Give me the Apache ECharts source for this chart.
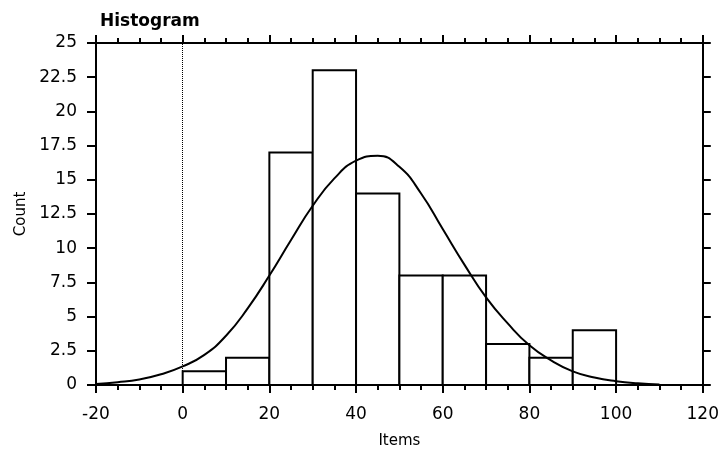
<!DOCTYPE html>
<html>
<head>
<meta charset="utf-8">
<script src="https://cdn.jsdelivr.net/npm/echarts@6/dist/echarts.min.js"></script>
<style>
  html, body { margin: 0; padding: 0; background: #fff; }
  #chart { width: 722px; height: 454px; }
</style>
</head>
<body>
<div id="chart"></div>
<script>
// histogram bins (left edge) and counts
const binStarts = [0, 10, 20, 30, 40, 50, 60, 70, 80, 90]
const binCounts = [1, 2, 17, 23, 14, 8, 8, 3, 2, 4]
const binWidth = 10

// fitted curve
const curveX = [-20, -15, -10, -5, 0, 5, 10, 15, 20, 25, 30, 35, 40, 45, 50, 55, 60, 65, 70, 75, 80, 85, 90, 95, 100, 105, 110]
const curveY = [0.07, 0.2, 0.4, 0.78, 1.36, 2.2, 3.6, 5.6, 8.0, 10.6, 13.1, 15.1, 16.4, 16.75, 15.95, 14.0, 11.4, 8.8, 6.4, 4.5, 2.9, 1.8, 1.0, 0.55, 0.28, 0.12, 0.03]

const xTicks = { min: -20, max: 120, interval: 20 }
const yTicks = { min: 0, max: 25, interval: 2.5 }

const font = 'DejaVu Sans'
const black = '#000'

const barData = binStarts.map((s, i) => [s, s + binWidth, binCounts[i]])
const curveData = curveX.map((x, i) => [x, curveY[i]])

const axisLine = { show: true, onZero: false, lineStyle: { color: black, width: 2 } }

const chart = echarts.init(document.getElementById('chart'))
chart.setOption({
  animation: false,
  backgroundColor: '#fff',
  title: {
    text: 'Histogram',
    left: 95,
    top: 8,
    textStyle: { fontFamily: font, fontSize: 17, fontWeight: 'bold', color: black }
  },
  grid: { left: 96, right: 16, top: 43, bottom: 67 },
  xAxis: [
    {
      type: 'value', position: 'bottom', ...xTicks,
      name: 'Items', nameLocation: 'middle', nameGap: 49,
      nameTextStyle: { fontFamily: font, fontSize: 15, color: black },
      axisLine,
      axisTick: { show: true, length: 8, lineStyle: { color: black, width: 2 } },
      minorTick: { show: true, splitNumber: 4, length: 5, lineStyle: { color: black, width: 2 } },
      axisLabel: { margin: 21, fontFamily: font, fontSize: 17, color: black },
      splitLine: { show: false }
    },
    {
      type: 'value', position: 'top', ...xTicks,
      axisLine,
      axisTick: { show: true, length: 8, lineStyle: { color: black, width: 2 } },
      minorTick: { show: true, splitNumber: 4, length: 5, lineStyle: { color: black, width: 2 } },
      axisLabel: { show: false },
      splitLine: { show: false }
    }
  ],
  yAxis: [
    {
      type: 'value', position: 'left', ...yTicks,
      name: 'Count', nameLocation: 'middle', nameGap: 64,
      nameTextStyle: { fontFamily: font, fontSize: 15, color: black },
      axisLine,
      axisTick: { show: true, length: 9, lineStyle: { color: black, width: 2 } },
      axisLabel: { margin: 19, fontFamily: font, fontSize: 17, color: black },
      splitLine: { show: false }
    },
    {
      type: 'value', position: 'right', ...yTicks,
      axisLine,
      axisTick: { show: true, length: 8, lineStyle: { color: black, width: 2 } },
      axisLabel: { show: false },
      splitLine: { show: false }
    }
  ],
  series: [
    {
      type: 'custom',
      xAxisIndex: 0,
      yAxisIndex: 0,
      data: barData,
      renderItem: function (params, api) {
        const p0 = api.coord([api.value(0), api.value(2)])
        const p1 = api.coord([api.value(1), 0])
        return {
          type: 'rect',
          shape: { x: p0[0], y: p0[1], width: p1[0] - p0[0], height: p1[1] - p0[1] },
          style: { fill: '#fff', stroke: black, lineWidth: 2 }
        }
      },
      z: 2
    },
    {
      type: 'line',
      xAxisIndex: 0,
      yAxisIndex: 0,
      data: curveData,
      smooth: 0.5,
      showSymbol: false,
      symbol: 'none',
      lineStyle: { color: black, width: 2 },
      z: 3,
      markLine: {
        silent: true,
        symbol: 'none',
        label: { show: false },
        lineStyle: { color: black, width: 1, type: 'dotted' },
        data: [{ xAxis: 0 }]
      }
    }
  ]
})
</script>
</body>
</html>
